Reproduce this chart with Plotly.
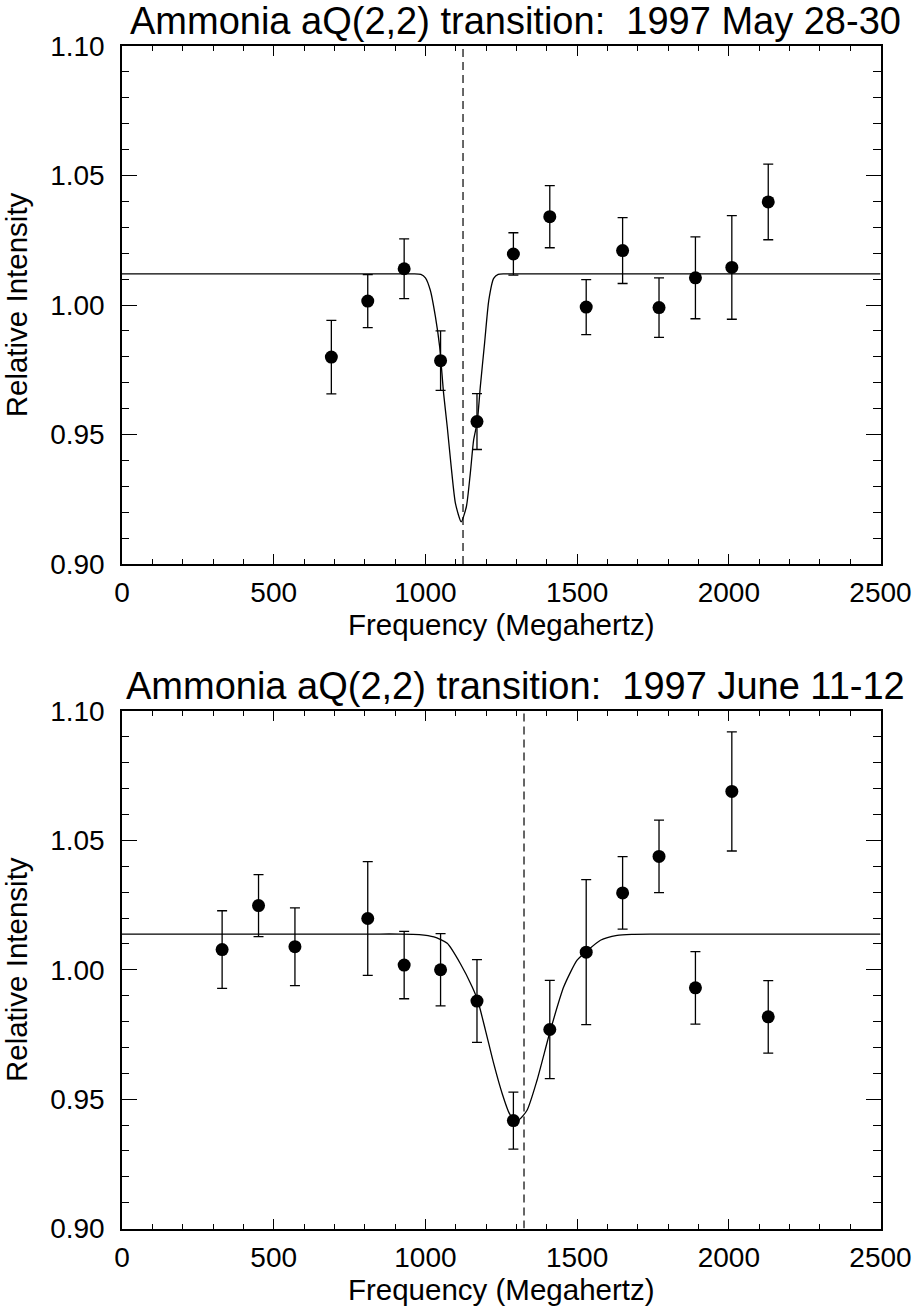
import plotly.graph_objects as go

# ---------------- data ----------------
titles = ["Ammonia aQ(2,2) transition:  1997 May 28-30",
          "Ammonia aQ(2,2) transition:  1997 June 11-12"]
x_title = "Frequency (Megahertz)"
y_title = "Relative Intensity"

freq_top = [690, 810, 930, 1050, 1170, 1290, 1410, 1530, 1650, 1770, 1890, 2010, 2130]
val_top = [0.9799, 1.0015, 1.0140, 0.9785, 0.9550, 1.0197, 1.0341, 0.9992, 1.0210,
           0.9990, 1.0105, 1.0145, 1.0398]
err_top = [0.0142, 0.0102, 0.0115, 0.0115, 0.0108, 0.0082, 0.0120, 0.0106, 0.0127,
           0.0115, 0.0158, 0.0200, 0.0146]

fit_top_x = [0, 500, 900, 960, 985, 1000, 1016, 1033, 1047, 1060, 1072, 1085, 1099,
             1118, 1135, 1148, 1159, 1171, 1181, 1195, 1209, 1225, 1240, 1260, 1320,
             2000, 2500]
fit_top_y = [1.012, 1.012, 1.012, 1.012, 1.0118, 1.0105, 1.0058, 0.9955, 0.9839,
             0.9659, 0.9530, 0.9376, 0.9234, 0.9163, 0.9221, 0.9350, 0.9479, 0.9550,
             0.9685, 0.9852, 1.0019, 1.0103, 1.0118, 1.012, 1.012, 1.012, 1.012]
center_top = 1124

freq_bot = [330, 450, 570, 810, 930, 1050, 1170, 1290, 1410, 1530, 1650, 1770, 1890, 2010, 2130]
val_bot = [1.0078, 1.0248, 1.0089, 1.0198, 1.0018, 1.0000, 0.9879, 0.9417, 0.9769,
           1.0068, 1.0297, 1.0438, 0.9930, 1.0689, 0.9818]
err_bot = [0.015, 0.012, 0.015, 0.022, 0.013, 0.014, 0.016, 0.011, 0.019, 0.028,
           0.014, 0.014, 0.014, 0.023, 0.014]

fit_bot_x = [0, 500, 850, 918, 980, 1028, 1072, 1115, 1154, 1173, 1198, 1225, 1253,
             1280, 1307, 1335, 1368, 1412, 1456, 1500, 1533, 1577, 1632, 1680, 1740,
             1850, 2200, 2500]
fit_bot_y = [1.0138, 1.0138, 1.0138, 1.0138, 1.0136, 1.0127, 1.0102, 1.0024, 0.9934,
             0.9879, 0.9766, 0.9638, 0.9522, 0.9438, 0.9420, 0.9457, 0.9573, 0.9766,
             0.9934, 1.0037, 1.0073, 1.0114, 1.0133, 1.0137, 1.0138, 1.0138, 1.0138,
             1.0138]
center_bot = 1325

x_range = [0, 2500]
y_range = [0.90, 1.10]
x_ticks = [0, 500, 1000, 1500, 2000, 2500]
y_ticks = [0.90, 0.95, 1.00, 1.05, 1.10]

# ---------------- figure ----------------
W, H = 919, 1309
FONT = "Liberation Sans, Arial, sans-serif"

fig = go.Figure()

panels = [
    (freq_top, val_top, err_top, fit_top_x, fit_top_y, center_top, "x", "y"),
    (freq_bot, val_bot, err_bot, fit_bot_x, fit_bot_y, center_bot, "x2", "y2"),
]

for fx, fv, fe, cx, cy, cen, xa, ya in panels:
    fig.add_trace(go.Scatter(x=cx, y=cy, mode="lines", xaxis=xa, yaxis=ya,
                             line=dict(color="black", width=1.3, shape="spline",
                                       smoothing=0.6),
                             showlegend=False, hoverinfo="skip"))
    fig.add_trace(go.Scatter(x=[cen, cen], y=y_range, mode="lines", xaxis=xa, yaxis=ya,
                             line=dict(color="black", width=1.2, dash="8px,5px"),
                             showlegend=False, hoverinfo="skip"))
    fig.add_trace(go.Scatter(x=fx, y=fv, mode="markers", xaxis=xa, yaxis=ya,
                             marker=dict(color="black", size=13),
                             error_y=dict(type="data", array=fe, visible=True,
                                          color="black", thickness=1.3, width=5),
                             showlegend=False))

# plot-area pixel positions
left_px, right_px = 122, 880.5
top_panel = (46, 564)
bot_panel = (711, 1228.5)


def ydom(p):
    return [1 - p[1] / H, 1 - p[0] / H]


xdom = [left_px / W, right_px / W]

axis_common = dict(
    showline=True, linecolor="black", linewidth=1.5, mirror="ticks",
    ticks="inside", tickcolor="black", tickwidth=1.3,
    showgrid=False, zeroline=False,
    tickfont=dict(family=FONT, size=28, color="black"),
    title_font=dict(family=FONT, size=29.5, color="black"),
    automargin=False,
)

xcommon = dict(axis_common, range=x_range, tickvals=x_ticks, ticklen=10,
               minor=dict(ticks="inside", dtick=100, ticklen=5, tickcolor="black",
                          tickwidth=1.3, showgrid=False),
               ticklabelstandoff=3, title_text=x_title, title_standoff=2)
ycommon = dict(axis_common, range=y_range, tickvals=y_ticks, tickformat=".2f",
               ticklen=15,
               minor=dict(ticks="inside", dtick=0.01, ticklen=7.5, tickcolor="black",
                          tickwidth=1.3, showgrid=False),
               ticklabelstandoff=10, title_text=y_title, title_standoff=15)

fig.update_layout(
    width=W, height=H,
    margin=dict(l=0, r=0, t=0, b=0),
    paper_bgcolor="white", plot_bgcolor="white",
    font=dict(family=FONT, color="black"),
    xaxis=dict(xcommon, domain=xdom, anchor="y"),
    yaxis=dict(ycommon, domain=ydom(top_panel), anchor="x"),
    xaxis2=dict(xcommon, domain=xdom, anchor="y2"),
    yaxis2=dict(ycommon, domain=ydom(bot_panel), anchor="x2"),
)

title_cx = 515 / W
for t, cy_px in zip(titles, [21, 686]):
    fig.add_annotation(text=t, xref="paper", yref="paper", x=title_cx,
                       y=1 - cy_px / H, xanchor="center", yanchor="middle",
                       showarrow=False,
                       font=dict(family=FONT, size=38, color="black"))

fig.write_html("out.html",
               config={"displayModeBar": False},
               post_script="document.body.style.margin='0';"
                           "document.body.style.overflow='hidden';")
